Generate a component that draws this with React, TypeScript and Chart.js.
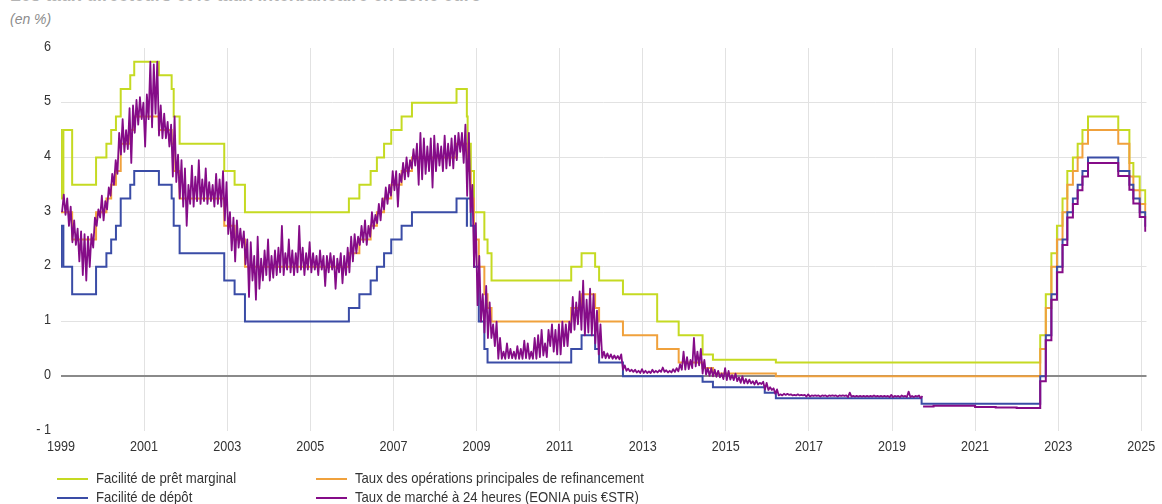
import React, { useEffect, useRef } from "react";
import { Chart, registerables } from "chart.js";

Chart.register(...registerables);

const SANS = "'Liberation Sans', Arial, sans-serif";
const TICK_SCALE = 0.84;
const LEGEND_SCALE = 0.875;

// ---------- labels / colours ----------
const titleText = "Les taux directeurs et le taux interbancaire en zone euro";
const unitText = "(en %)";
const seriesLabels = [
  "Facilité de prêt marginal",
  "Taux des opérations principales de refinancement",
  "Facilité de dépôt",
  "Taux de marché à 24 heures (EONIA puis €STR)",
];
const seriesColors = ["#c5da22", "#f0a13c", "#3a4ca6", "#850c88"];

// ---------- axes ----------
const xTickYears = [1999, 2001, 2003, 2005, 2007, 2009, 2011, 2013, 2015, 2017, 2019, 2021, 2023, 2025];
const yTickValues = [-1, 0, 1, 2, 3, 4, 5, 6];
const xMin = 1999;
const xMax = 2025.125;

// ---------- policy rates (change dates) ----------
const rateDates = [
  "1999-01-01", "1999-01-04", "1999-01-22", "1999-04-09", "1999-11-05",
  "2000-02-04", "2000-03-17", "2000-04-28", "2000-06-09", "2000-09-01", "2000-10-06",
  "2001-05-11", "2001-08-31", "2001-09-18", "2001-11-09",
  "2002-12-06", "2003-03-07", "2003-06-06",
  "2005-12-06", "2006-03-08", "2006-06-15", "2006-08-09", "2006-10-11", "2006-12-13",
  "2007-03-14", "2007-06-13", "2008-07-09",
  "2008-10-08", "2008-10-09", "2008-10-15", "2008-11-12", "2008-12-10",
  "2009-01-21", "2009-03-11", "2009-04-08", "2009-05-13",
  "2011-04-13", "2011-07-13", "2011-11-09", "2011-12-14",
  "2012-07-11", "2013-05-08", "2013-11-13", "2014-06-11", "2014-09-10",
  "2015-12-09", "2016-03-16", "2019-09-18",
  "2022-07-27", "2022-09-14", "2022-11-02", "2022-12-21",
  "2023-02-08", "2023-03-22", "2023-05-10", "2023-06-21", "2023-08-02", "2023-09-20",
  "2024-06-12", "2024-09-18", "2024-10-23", "2024-12-18", "2025-02-05", "2025-02-14",
];
const marginalLendingRates = [
  4.5, 3.25, 4.5, 3.5, 4.0,
  4.25, 4.5, 4.75, 5.25, 5.5, 5.75,
  5.5, 5.25, 4.75, 4.25,
  3.75, 3.5, 3.0,
  3.25, 3.5, 3.75, 4.0, 4.25, 4.5,
  4.75, 5.0, 5.25,
  4.75, 4.75, 4.25, 3.75, 3.0,
  3.0, 2.5, 2.25, 1.75,
  2.0, 2.25, 2.0, 1.75,
  1.5, 1.0, 0.75, 0.4, 0.3,
  0.3, 0.25, 0.25,
  0.75, 1.5, 2.25, 2.75,
  3.25, 3.75, 4.0, 4.25, 4.5, 4.75,
  4.5, 3.9, 3.65, 3.4, 3.15, 3.15,
];
const mainRefiRates = [
  3.0, 3.0, 3.0, 2.5, 3.0,
  3.25, 3.5, 3.75, 4.25, 4.5, 4.75,
  4.5, 4.25, 3.75, 3.25,
  2.75, 2.5, 2.0,
  2.25, 2.5, 2.75, 3.0, 3.25, 3.5,
  3.75, 4.0, 4.25,
  4.25, 4.25, 3.75, 3.25, 2.5,
  2.0, 1.5, 1.25, 1.0,
  1.25, 1.5, 1.25, 1.0,
  0.75, 0.5, 0.25, 0.15, 0.05,
  0.05, 0.0, 0.0,
  0.5, 1.25, 2.0, 2.5,
  3.0, 3.5, 3.75, 4.0, 4.25, 4.5,
  4.25, 3.65, 3.4, 3.15, 2.9, 2.9,
];
const depositRates = [
  2.0, 2.75, 2.0, 1.5, 2.0,
  2.25, 2.5, 2.75, 3.25, 3.5, 3.75,
  3.5, 3.25, 2.75, 2.25,
  1.75, 1.5, 1.0,
  1.25, 1.5, 1.75, 2.0, 2.25, 2.5,
  2.75, 3.0, 3.25,
  2.75, 3.25, 3.25, 2.75, 2.0,
  1.0, 0.5, 0.25, 0.25,
  0.5, 0.75, 0.5, 0.25,
  0.0, 0.0, 0.0, -0.1, -0.2,
  -0.3, -0.4, -0.5,
  0.0, 0.75, 1.5, 2.0,
  2.5, 3.0, 3.25, 3.5, 3.75, 4.0,
  3.75, 3.5, 3.25, 3.0, 2.75, 2.75,
];

// ---------- overnight rate: EONIA, monthly low / high from Jan 1999 to Sep 2019 ----------
const eoniaFirstYear = 1999;
const eoniaLow = [
  3.0, 2.95, 2.75, 2.45, 2.4, 2.1, 1.85, 1.75, 2.0, 2.35, 2.75, 2.9,
  2.85, 3.05, 3.3, 3.5, 3.7, 4.05, 4.1, 4.15, 3.9, 4.45, 4.6, 4.7,
  4.2, 4.7, 4.55, 4.8, 4.4, 4.35, 4.35, 4.2, 3.65, 3.55, 3.25, 3.1,
  2.75, 3.15, 3.1, 3.2, 3.15, 3.2, 3.15, 3.2, 3.1, 3.15, 3.1, 2.85,
  2.6, 2.3, 2.1, 2.35, 2.35, 2.05, 1.45, 1.75, 1.4, 1.6, 1.75, 1.85,
  1.75, 1.8, 1.85, 1.9, 1.85, 1.95, 1.9, 1.85, 1.9, 1.95, 1.85, 1.95,
  1.9, 1.95, 1.85, 1.95, 1.65, 1.9, 1.95, 1.6, 1.9, 1.7, 1.85, 1.9,
  2.1, 2.25, 2.4, 2.45, 2.4, 2.55, 2.7, 2.8, 2.85, 3.05, 3.15, 3.3,
  3.4, 3.1, 3.55, 3.6, 3.65, 3.8, 3.85, 3.5, 3.6, 3.7, 3.75, 3.45,
  3.75, 3.85, 3.75, 3.8, 3.85, 3.8, 3.95, 4.1, 3.9, 3.3, 3.0, 2.0,
  1.3, 1.0, 0.8, 0.7, 0.7, 0.55, 0.32, 0.32, 0.32, 0.33, 0.33, 0.32,
  0.32, 0.32, 0.33, 0.32, 0.32, 0.32, 0.35, 0.38, 0.35, 0.55, 0.45, 0.4,
  0.4, 0.55, 0.55, 0.8, 0.85, 0.95, 0.85, 0.75, 0.8, 0.75, 0.6, 0.4,
  0.34, 0.33, 0.33, 0.32, 0.32, 0.31, 0.12, 0.1, 0.09, 0.08, 0.07, 0.06,
  0.06, 0.06, 0.06, 0.07, 0.07, 0.08, 0.08, 0.07, 0.07, 0.08, 0.09, 0.12,
  0.12, 0.13, 0.15, 0.18, 0.2, 0.05, 0.03, 0.01, 0.0, -0.01, -0.02, -0.05,
  -0.07, -0.06, -0.07, -0.09, -0.12, -0.13, -0.13, -0.13, -0.15, -0.15, -0.14, -0.24,
  -0.25, -0.25, -0.32, -0.35, -0.35, -0.34, -0.34, -0.35, -0.35, -0.35, -0.35, -0.37,
  -0.37, -0.36, -0.36, -0.37, -0.36, -0.37, -0.36, -0.36, -0.37, -0.36, -0.36, -0.38,
  -0.37, -0.37, -0.37, -0.37, -0.37, -0.37, -0.37, -0.37, -0.37, -0.37, -0.37, -0.38,
  -0.38, -0.37, -0.38, -0.37, -0.38, -0.38, -0.38, -0.37, -0.4,
];
const eoniaHigh = [
  3.32, 3.25, 3.1, 2.85, 2.7, 2.65, 2.6, 2.55, 2.6, 2.9, 3.05, 3.3,
  3.2, 3.45, 3.7, 3.95, 4.45, 4.7, 4.5, 4.9, 4.95, 5.05, 5.1, 5.0,
  5.15, 5.75, 5.7, 5.75, 4.95, 4.8, 4.65, 4.6, 4.75, 4.05, 3.95, 3.8,
  3.5, 3.85, 3.65, 3.95, 3.6, 3.8, 3.55, 3.5, 3.7, 3.6, 3.75, 3.55,
  3.0, 2.9, 2.85, 2.7, 2.65, 2.5, 2.45, 2.2, 2.55, 2.15, 2.3, 2.5,
  2.2, 2.3, 2.35, 2.75, 2.25, 2.5, 2.3, 2.25, 2.75, 2.35, 2.25, 2.45,
  2.25, 2.2, 2.3, 2.2, 2.2, 2.25, 2.2, 2.15, 2.25, 2.2, 2.35, 2.55,
  2.6, 2.55, 2.75, 2.85, 2.75, 3.0, 2.95, 3.15, 3.25, 3.45, 3.5, 3.75,
  3.75, 3.7, 3.9, 4.0, 3.95, 4.15, 4.25, 4.45, 4.35, 4.2, 4.35, 4.4,
  4.25, 4.2, 4.4, 4.25, 4.35, 4.4, 4.45, 4.45, 4.6, 4.45, 3.5, 2.8,
  2.2, 1.5, 1.65, 1.35, 0.95, 1.0, 0.7, 0.45, 0.6, 0.5, 0.45, 0.55,
  0.5, 0.65, 0.6, 0.45, 0.7, 0.75, 0.85, 0.6, 0.85, 0.95, 0.85, 0.95,
  1.0, 0.95, 1.0, 1.45, 1.35, 1.55, 1.75, 1.4, 1.6, 1.5, 1.2, 0.95,
  0.45, 0.42, 0.4, 0.38, 0.37, 0.4, 0.2, 0.14, 0.12, 0.12, 0.1, 0.13,
  0.1, 0.09, 0.12, 0.1, 0.11, 0.16, 0.11, 0.1, 0.13, 0.15, 0.22, 0.45,
  0.35, 0.3, 0.7, 0.45, 0.5, 0.3, 0.15, 0.15, 0.12, 0.1, 0.05, 0.15,
  0.1, 0.02, 0.05, -0.02, 0.0, -0.05, -0.06, -0.09, -0.08, -0.12, -0.1, -0.12,
  -0.2, -0.22, -0.24, -0.33, -0.32, -0.32, -0.33, -0.34, -0.33, -0.34, -0.34, -0.33,
  -0.35, -0.35, -0.35, -0.35, -0.35, -0.35, -0.35, -0.35, -0.35, -0.35, -0.35, -0.3,
  -0.36, -0.36, -0.36, -0.36, -0.36, -0.36, -0.35, -0.36, -0.36, -0.36, -0.36, -0.34,
  -0.36, -0.36, -0.35, -0.36, -0.28, -0.36, -0.36, -0.35, -0.36,
];

// ---------- overnight rate: €STR, from Oct 2019 (level changes) ----------
const estrDates = [
  "2019-10-01", "2020-01-01", "2021-01-01", "2021-07-01", "2022-01-01",
  "2022-07-27", "2022-09-14", "2022-11-02", "2022-12-21",
  "2023-02-08", "2023-03-22", "2023-05-10", "2023-06-21", "2023-08-02", "2023-09-20",
  "2024-06-12", "2024-09-18", "2024-10-23", "2024-12-18", "2025-02-05", "2025-02-14",
];
const estrValues = [
  -0.55, -0.54, -0.56, -0.57, -0.58,
  -0.09, 0.66, 1.4, 1.9,
  2.4, 2.9, 3.15, 3.4, 3.65, 3.9,
  3.66, 3.41, 3.16, 2.91, 2.66, 2.66,
];

function toYear(d: string): number {
  const [y, m, day] = d.split("-").map(Number);
  const start = Date.UTC(y, 0, 1);
  const end = Date.UTC(y + 1, 0, 1);
  return y + (Date.UTC(y, m - 1, day) - start) / (end - start);
}

function stepPoints(dates: string[], values: number[]) {
  return dates.map((d, i) => ({ x: toYear(d), y: values[i] }));
}

function eoniaPoints() {
  const pts: { x: number; y: number }[] = [];
  for (let i = 0; i < eoniaLow.length; i++) {
    pts.push({ x: eoniaFirstYear + (i + 0.3) / 12, y: eoniaLow[i] });
    pts.push({ x: eoniaFirstYear + (i + 0.8) / 12, y: eoniaHigh[i] });
  }
  return pts;
}

// tick labels drawn in a condensed rendering of the sans font
const narrowTickLabels = {
  id: "narrowTickLabels",
  afterDraw(chart: any) {
    const ctx = chart.ctx as CanvasRenderingContext2D;
    const xs = chart.scales.x;
    const ys = chart.scales.y;
    ctx.save();
    ctx.fillStyle = "#333333";
    ctx.font = `15px ${SANS}`;
    ctx.textBaseline = "middle";
    ctx.textAlign = "center";
    for (const v of xTickYears) {
      ctx.save();
      ctx.translate(xs.getPixelForValue(v), xs.top + 15.5);
      ctx.scale(TICK_SCALE, 1);
      ctx.fillText(String(v), 0, 0);
      ctx.restore();
    }
    ctx.textAlign = "right";
    for (const v of yTickValues) {
      const label = v < 0 ? "- " + Math.abs(v) : String(v);
      ctx.save();
      ctx.translate(ys.right - 10, ys.getPixelForValue(v) - 1.5);
      ctx.scale(TICK_SCALE, 1);
      ctx.fillText(label, 0, 0);
      ctx.restore();
    }
    ctx.restore();
  },
};

// ---------- layout (style only) ----------
const W = 1162;
const H = 504;
const legendCols = [57, 316];
const legendRows = [478, 497];

export default function App() {
  const ref = useRef<HTMLCanvasElement | null>(null);

  useEffect(() => {
    if (!ref.current) return;
    const chart = new Chart(ref.current, {
      type: "line",
      data: {
        datasets: [
          {
            label: seriesLabels[0],
            data: stepPoints(rateDates, marginalLendingRates),
            borderColor: seriesColors[0],
            borderWidth: 2,
            stepped: "before",
            order: 4,
          },
          {
            label: seriesLabels[1],
            data: stepPoints(rateDates, mainRefiRates),
            borderColor: seriesColors[1],
            borderWidth: 2,
            stepped: "before",
            order: 3,
          },
          {
            label: seriesLabels[2],
            data: stepPoints(rateDates, depositRates),
            borderColor: seriesColors[2],
            borderWidth: 2,
            stepped: "before",
            order: 2,
          },
          {
            label: seriesLabels[3],
            data: eoniaPoints(),
            borderColor: seriesColors[3],
            borderWidth: 1.8,
            borderJoinStyle: "round",
            order: 1,
          },
          {
            label: seriesLabels[3],
            data: stepPoints(estrDates, estrValues),
            borderColor: seriesColors[3],
            borderWidth: 2,
            stepped: "before",
            order: 1,
          },
        ],
      },
      options: {
        animation: false,
        responsive: false,
        events: [],
        parsing: false,
        layout: { padding: { left: 0, right: 15.5, top: 48, bottom: 43 } },
        elements: { point: { radius: 0 }, line: { tension: 0, fill: false } },
        plugins: {
          legend: { display: false },
          title: { display: false },
          tooltip: { enabled: false },
        },
        scales: {
          x: {
            type: "linear",
            min: xMin,
            max: xMax,
            afterBuildTicks: (s: any) => {
              s.ticks = xTickYears.map((v) => ({ value: v }));
            },
            afterFit: (s: any) => {
              s.height = 30;
            },
            border: { display: false },
            grid: {
              drawTicks: false,
              lineWidth: 1,
              color: (c: any) => (c.tick && c.tick.value === xMin ? "rgba(0,0,0,0)" : "#e2e2e2"),
            },
            ticks: { display: false, autoSkip: false, maxRotation: 0 },
          },
          y: {
            type: "linear",
            min: -1,
            max: 6,
            afterBuildTicks: (s: any) => {
              s.ticks = yTickValues.map((v) => ({ value: v }));
            },
            afterFit: (s: any) => {
              s.width = 61;
            },
            border: { display: false },
            grid: {
              drawTicks: false,
              lineWidth: (c: any) => (c.tick && c.tick.value === 0 ? 2 : 1),
              color: (c: any) => {
                const v = c.tick ? c.tick.value : null;
                if (v === 0) return "#8a8a8a";
                if (v === -1 || v === 6) return "rgba(0,0,0,0)";
                return "#e2e2e2";
              },
            },
            ticks: { display: false },
          },
        },
      } as any,
      plugins: [narrowTickLabels],
    });
    return () => chart.destroy();
  }, []);

  const legendOrder = [0, 1, 2, 3];

  return (
    <div
      style={{
        position: "absolute",
        left: 0,
        top: 0,
        width: W,
        height: H,
        overflow: "hidden",
        background: "#ffffff",
      }}
    >
      <div
        style={{
          position: "absolute",
          left: 10,
          top: -17,
          fontFamily: SANS,
          fontWeight: "bold",
          fontSize: 20,
          color: "#b4b4b4",
          whiteSpace: "nowrap",
          lineHeight: "22px",
          transform: "scaleX(0.88)",
          transformOrigin: "left top",
        }}
      >
        {titleText}
      </div>
      <div
        style={{
          position: "absolute",
          left: 10,
          top: 11,
          fontFamily: SANS,
          fontStyle: "italic",
          fontSize: 14,
          color: "#8c8c8c",
          lineHeight: "16px",
          whiteSpace: "nowrap",
        }}
      >
        {unitText}
      </div>
      <canvas ref={ref} width={W} height={H} style={{ position: "absolute", left: 0, top: 0, display: "block" }} />
      {legendOrder.map((idx, k) => {
        const col = k % 2;
        const row = Math.floor(k / 2);
        const x0 = legendCols[col];
        const y0 = legendRows[row];
        return (
          <React.Fragment key={idx}>
            <div
              style={{
                position: "absolute",
                left: x0,
                top: y0,
                width: 31,
                height: 2,
                background: seriesColors[idx],
              }}
            />
            <div
              style={{
                position: "absolute",
                left: x0 + 39,
                top: y0 - 9,
                height: 18,
                lineHeight: "18px",
                fontFamily: SANS,
                fontSize: 15,
                color: "#333333",
                whiteSpace: "nowrap",
                transform: `scaleX(${LEGEND_SCALE})`,
                transformOrigin: "left center",
              }}
            >
              {seriesLabels[idx]}
            </div>
          </React.Fragment>
        );
      })}
    </div>
  );
}
